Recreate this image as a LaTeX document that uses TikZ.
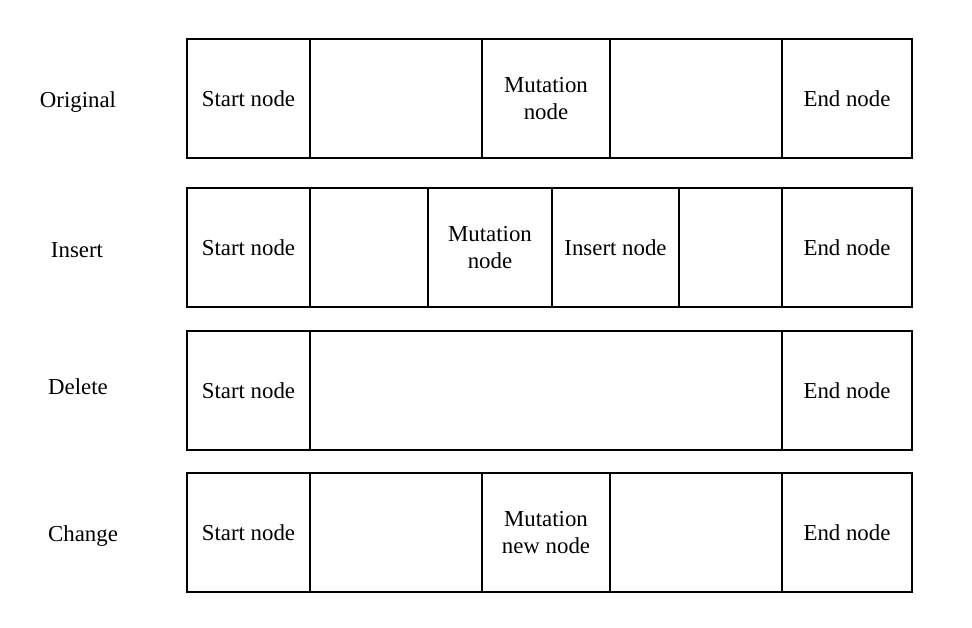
\documentclass[tikz,border=0pt]{standalone}
\usepackage{fontspec}
\setmainfont{Liberation Serif}
\usetikzlibrary{positioning}
\tikzset{cell/.style={draw, line width=1.1pt, inner sep=0pt, align=center,
    minimum height=119*0.02cm, font=\fontsize{13}{15.5}\selectfont},
  rowlabel/.style={font=\fontsize{13}{16}\selectfont}}

\begin{document}
\begin{tikzpicture}[x=0.02cm,y=-0.02cm]
    \useasboundingbox (0,0) rectangle (972,627);
    \begin{scope}[shift={(0,39)}]
      \foreach \a/\b/\t [count=\i] in {187/310/Start node,310/482/,482/610/Mutation\\node,610/782/,782/912/End node}{%
        \node[cell, minimum width=(\b-\a)*0.02cm] (o\i) at ({(\a+\b)/2},59.5) {\t};
      }
    \end{scope}
    \begin{scope}[shift={(0,188)}]
      \foreach \a/\b/\t [count=\i] in {187/310/Start node,310/428/,428/552/Mutation\\node,552/679/Insert node,679/782/,782/912/End node}{%
        \node[cell, minimum width=(\b-\a)*0.02cm] (i\i) at ({(\a+\b)/2},59.5) {\t};
      }
    \end{scope}
    \begin{scope}[shift={(0,331)}]
      \foreach \a/\b/\t [count=\i] in {187/310/Start node,310/782/,782/912/End node}{%
        \node[cell, minimum width=(\b-\a)*0.02cm] (d\i) at ({(\a+\b)/2},59.5) {\t};
      }
    \end{scope}
    \begin{scope}[shift={(0,473)}]
      \foreach \a/\b/\t [count=\i] in {187/310/Start node,310/482/,482/610/Mutation\\new node,610/782/,782/912/End node}{%
        \node[cell, minimum width=(\b-\a)*0.02cm] (c\i) at ({(\a+\b)/2},59.5) {\t};
      }
    \end{scope}
    \node[rowlabel] (lorig) at (78,102) {Original};
    \node[rowlabel] (lins) at (77,250) {Insert};
    \node[rowlabel] (ldel) at (78,387) {Delete};
    \node[rowlabel] (lchg) at (83,536) {Change};
  \end{tikzpicture}
\end{document}
